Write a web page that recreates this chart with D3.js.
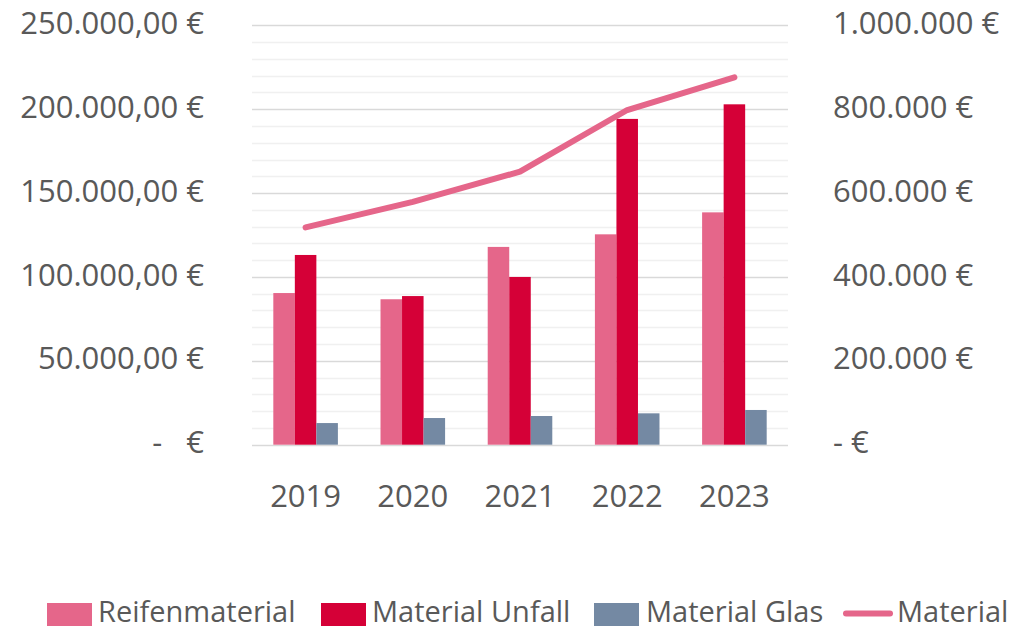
<!DOCTYPE html>
<html>
<head>
<meta charset="utf-8">
<script src="https://cdn.jsdelivr.net/npm/d3@7"></script>
<style>
  html, body { margin: 0; padding: 0; background: #ffffff; }
  svg { display: block; }
  text { font-family: "Open Sans", sans-serif; fill: #595959; }
</style>
</head>
<body>
<svg id="chart" width="1025" height="631"></svg>
<script>
// ---- data ----
const years = ["2019", "2020", "2021", "2022", "2023"];
const seriesNames = ["Reifenmaterial", "Material Unfall", "Material Glas"];
const reifenmaterial = [90400, 86700, 117900, 125400, 138500];
const materialUnfall = [113100, 88600, 100000, 194200, 202900];
const materialGlas = [12900, 15900, 17100, 18700, 20700];
const materialTotal = [518000, 579000, 651000, 798000, 876000];
const lineName = "Material";
const leftTicks = [0, 50000, 100000, 150000, 200000, 250000];
const rightTicks = [0, 200000, 400000, 600000, 800000, 1000000];

const colors = {
  "Reifenmaterial": "#E5668A",
  "Material Unfall": "#D50037",
  "Material Glas": "#7489A3",
  "Material": "#E5668A"
};

// ---- layout ----
const svg = d3.select("#chart");
const plot = { left: 252, right: 788, top: 25.3, bottom: 444.7 };

const deLocale = d3.formatLocale({ decimal: ",", thousands: ".", grouping: [3], currency: ["", " €"] });
const fmtLeft = v => v === 0 ? "-   €" : deLocale.format(",.2f")(v) + " €";
const fmtRight = v => v === 0 ? "- €" : deLocale.format(",.0f")(v) + " €";

const x = d3.scaleBand().domain(years).range([plot.left, plot.right]).padding(0);
const x1 = d3.scaleBand().domain(seriesNames).range([0, x.bandwidth()]).paddingInner(0).paddingOuter(0.99);
const yL = d3.scaleLinear().domain([0, 250000]).range([plot.bottom, plot.top]);
const yR = d3.scaleLinear().domain([0, 1000000]).range([plot.bottom, plot.top]);

// gridlines: minor every 10k, major every 50k
const minorTicks = d3.range(0, 250001, 10000);
svg.append("g").selectAll("line")
  .data(minorTicks)
  .join("line")
  .attr("x1", plot.left).attr("x2", plot.right)
  .attr("y1", d => Math.round(yL(d)) + 0.5).attr("y2", d => Math.round(yL(d)) + 0.5)
  .attr("stroke", d => d % 50000 === 0 ? "#D9D9D9" : "#F0F0F0")
  .attr("stroke-width", 1.3);

// bars
const barData = years.map((yr, i) => ({
  year: yr,
  values: [
    { name: seriesNames[0], value: reifenmaterial[i] },
    { name: seriesNames[1], value: materialUnfall[i] },
    { name: seriesNames[2], value: materialGlas[i] }
  ]
}));

svg.append("g").selectAll("g")
  .data(barData)
  .join("g")
  .attr("transform", d => `translate(${x(d.year)},0)`)
  .selectAll("rect")
  .data(d => d.values)
  .join("rect")
  .attr("x", d => x1(d.name))
  .attr("width", x1.bandwidth())
  .attr("y", d => yL(d.value))
  .attr("height", d => yL(0) - yL(d.value))
  .attr("fill", d => colors[d.name]);

// line
const line = d3.line()
  .x((d, i) => x(years[i]) + x.bandwidth() / 2)
  .y(d => yR(d));
svg.append("path")
  .datum(materialTotal)
  .attr("d", line)
  .attr("fill", "none")
  .attr("stroke", colors[lineName])
  .attr("stroke-width", 6)
  .attr("stroke-linecap", "round")
  .attr("stroke-linejoin", "round");

// left axis
const axL = svg.append("g")
  .attr("transform", "translate(204,0)")
  .call(d3.axisLeft(yL).tickValues(leftTicks).tickFormat(fmtLeft).tickSize(0).tickPadding(0));
axL.select(".domain").remove();
axL.selectAll("text")
  .attr("dy", "0.26em")
  .style("font-size", "31px")
  .style("font-family", "'Open Sans', sans-serif")
  .style("white-space", "pre")
  .attr("fill", "#595959");

// right axis
const axR = svg.append("g")
  .attr("transform", "translate(833,0)")
  .call(d3.axisRight(yR).tickValues(rightTicks).tickFormat(fmtRight).tickSize(0).tickPadding(0));
axR.select(".domain").remove();
axR.selectAll("text")
  .attr("dy", "0.26em")
  .style("font-size", "31px")
  .style("font-family", "'Open Sans', sans-serif")
  .attr("fill", "#595959");

// bottom axis
const axB = svg.append("g")
  .attr("transform", `translate(0,${plot.bottom})`)
  .call(d3.axisBottom(x).tickSize(0).tickPadding(0));
axB.select(".domain").remove();
axB.selectAll("text")
  .attr("y", 62)
  .attr("dy", 0)
  .style("font-size", "31px")
  .style("font-family", "'Open Sans', sans-serif")
  .attr("fill", "#595959");

// legend
const legendItems = [
  { name: seriesNames[0], type: "rect", sx: 47, tx: 98 },
  { name: seriesNames[1], type: "rect", sx: 321, tx: 372 },
  { name: seriesNames[2], type: "rect", sx: 594, tx: 646 },
  { name: lineName, type: "line", sx: 843, tx: 897 }
];
const legendBaseline = 622;
const lg = svg.append("g");
legendItems.forEach(it => {
  if (it.type === "rect") {
    lg.append("rect").attr("x", it.sx).attr("y", legendBaseline - 19).attr("width", 45).attr("height", 23)
      .attr("fill", colors[it.name]);
  } else {
    lg.append("line").attr("x1", it.sx + 3).attr("x2", it.sx + 47)
      .attr("y1", legendBaseline - 8.5).attr("y2", legendBaseline - 8.5)
      .attr("stroke", colors[it.name]).attr("stroke-width", 6).attr("stroke-linecap", "round");
  }
  lg.append("text").attr("x", it.tx).attr("y", legendBaseline)
    .style("font-size", "29px")
    .text(it.name);
});
</script>
</body>
</html>
